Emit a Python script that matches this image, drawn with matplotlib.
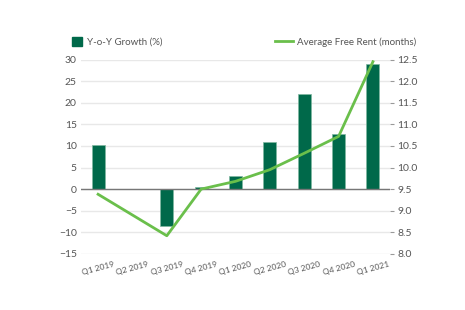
import matplotlib.pyplot as plt
import numpy as np
from matplotlib.patches import Patch
from matplotlib.lines import Line2D

quarters = ['Q1 2019', 'Q2 2019', 'Q3 2019', 'Q4 2019', 'Q1 2020',
            'Q2 2020', 'Q3 2020', 'Q4 2020', 'Q1 2021']
yoy_growth = [10.3, 0.0, -8.5, 0.5, 3.1, 10.9, 22.0, 12.8, 28.9]
free_rent = [9.38, 8.9, 8.42, 9.5, 9.68, 9.95, 10.33, 10.72, 12.45]

BAR_GREEN = '#00694a'
LINE_GREEN = '#6abf4b'
TEXT_GREY = '#555555'

plt.rcParams['font.family'] = ['Lato', 'DejaVu Sans']

fig = plt.figure(figsize=(4.65, 3.1), dpi=100)
ax = fig.add_axes([0.174, 0.181, 0.665, 0.627])
ax2 = ax.twinx()

x = np.arange(len(quarters))
ax.bar(x, yoy_growth, 0.38, color=BAR_GREEN, edgecolor='#7fb8a0', linewidth=0.5, zorder=3)
ax.axhline(0, color='#777777', linewidth=1, zorder=4)

ax.set_xlim(-0.5, len(quarters) - 0.5)
ax.set_ylim(-15, 30)
ax.set_yticks(np.arange(-15, 31, 5))
ax.grid(axis='y', color='#e8e8e8', linewidth=1, zorder=0)
ax.set_axisbelow(True)
ax.set_xticks(x)
ax.set_xticklabels(quarters, rotation=15, fontsize=6, color=TEXT_GREY)
ax.tick_params(axis='x', length=0, pad=5)
ax.tick_params(axis='y', length=0, labelsize=7.5, labelcolor=TEXT_GREY, pad=3)
for side in ['top', 'right', 'left', 'bottom']:
    ax.spines[side].set_visible(False)

ax2.plot(x, free_rent, color=LINE_GREEN, linewidth=2, zorder=5)
ax2.set_ylim(8.0, 12.5)
ax2.set_yticks(np.arange(8.0, 12.51, 0.5))
ax2.set_yticklabels(['{:.1f}'.format(v) for v in np.arange(8.0, 12.51, 0.5)])
ax2.tick_params(axis='y', length=3, color='#999999', labelsize=7.5, labelcolor=TEXT_GREY, pad=2)
for side in ['top', 'right', 'left', 'bottom']:
    ax2.spines[side].set_visible(False)

fig.legend(handles=[Patch(facecolor=BAR_GREEN, edgecolor=BAR_GREEN, label='Y-o-Y Growth (%)')],
           loc='center left', bbox_to_anchor=(0.135, 0.865), frameon=False,
           fontsize=7, labelcolor=TEXT_GREY, handlelength=1.1, handleheight=1.1, handletextpad=0.5)
fig.legend(handles=[Line2D([0], [0], color=LINE_GREEN, linewidth=2, label='Average Free Rent (months)')],
           loc='center right', bbox_to_anchor=(0.915, 0.865), frameon=False,
           fontsize=7, labelcolor=TEXT_GREY, handlelength=1.8, handletextpad=0.5)

fig.savefig('out.png', dpi=100)
